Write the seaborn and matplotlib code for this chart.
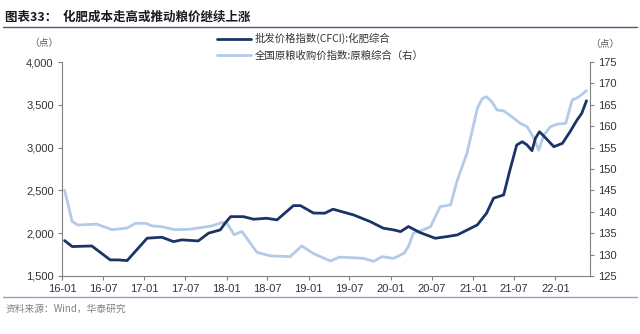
import matplotlib
matplotlib.use("Agg")
import matplotlib.pyplot as plt
import matplotlib.dates as mdates
from matplotlib.lines import Line2D
from matplotlib.ticker import FuncFormatter, MultipleLocator
import pandas as pd
import seaborn as sns

# 批发价格指数(CFCI):化肥综合 (left axis)
cfci_dates = [
    "2016-01-12", "2016-02-15", "2016-05-12", "2016-08-02", "2016-09-07", "2016-10-16",
    "2017-01-13", "2017-03-19", "2017-05-10", "2017-06-16", "2017-08-28", "2017-10-13",
    "2017-12-04", "2017-12-25", "2018-01-19", "2018-03-16", "2018-05-01", "2018-06-28",
    "2018-08-13", "2018-10-25", "2018-11-25", "2019-01-22", "2019-03-13", "2019-04-19",
    "2019-07-19", "2019-10-01", "2019-11-28", "2020-01-13", "2020-02-13", "2020-03-19",
    "2020-05-10", "2020-07-16", "2020-09-07", "2020-10-22", "2021-01-19", "2021-03-01",
    "2021-04-01", "2021-05-16", "2021-06-13", "2021-07-13", "2021-08-07", "2021-08-28",
    "2021-09-19", "2021-10-04", "2021-10-22", "2021-11-10", "2021-12-25", "2022-02-01",
    "2022-03-07", "2022-04-07", "2022-04-28", "2022-05-19",
]
cfci_values = [
    1913, 1843, 1850, 1687, 1687, 1679,
    1941, 1952, 1901, 1921, 1909, 2000,
    2038, 2116, 2193, 2193, 2163, 2174,
    2155, 2322, 2322, 2235, 2233, 2280,
    2213, 2135, 2058, 2038, 2018, 2077,
    2006, 1940, 1960, 1979, 2096, 2233,
    2408, 2447, 2739, 3031, 3069, 3031,
    2964, 3109, 3186, 3136, 3011, 3050,
    3186, 3323, 3401, 3548,
]

# 全国原粮收购价指数:原粮综合 (right axis)
grain_dates = [
    "2016-01-12", "2016-02-15", "2016-03-12", "2016-06-04", "2016-08-10", "2016-10-16",
    "2016-11-22", "2017-01-07", "2017-02-04", "2017-03-19", "2017-05-16", "2017-07-16",
    "2017-08-28", "2017-10-28", "2017-12-13", "2018-01-04", "2018-02-04", "2018-03-10",
    "2018-05-16", "2018-07-13", "2018-10-10", "2018-12-01", "2019-01-22", "2019-04-07",
    "2019-05-19", "2019-09-01", "2019-10-16", "2019-11-22", "2020-01-13", "2020-02-28",
    "2020-03-19", "2020-04-10", "2020-05-25", "2020-06-25", "2020-08-07", "2020-09-22",
    "2020-10-22", "2020-12-04", "2020-12-28", "2021-01-19", "2021-02-10", "2021-03-01",
    "2021-03-25", "2021-04-16", "2021-05-16", "2021-06-22", "2021-07-28", "2021-08-28",
    "2021-09-28", "2021-10-19", "2021-11-10", "2021-12-10", "2022-01-10", "2022-02-16",
    "2022-03-16", "2022-04-13", "2022-05-19",
]
grain_values = [
    145.1, 137.7, 136.9, 137.1, 135.8, 136.2,
    137.3, 137.3, 136.7, 136.5, 135.8, 135.9,
    136.2, 136.7, 137.5, 137.2, 134.6, 135.4,
    130.5, 129.7, 129.5, 132.0, 130.2, 128.5,
    129.4, 129.1, 128.4, 129.5, 129.1, 130.3,
    131.9, 135.0, 135.8, 136.5, 141.2, 141.6,
    147.4, 153.7, 159.1, 164.2, 166.5, 166.9,
    165.7, 163.8, 163.6, 162.2, 160.7, 159.9,
    157.2, 154.4, 157.9, 159.9, 160.5, 160.7,
    166.1, 166.8, 168.3,
]

x_tick_labels = ["16-01", "16-07", "17-01", "17-07", "18-01", "18-07", "19-01",
                 "19-07", "20-01", "20-07", "21-01", "21-07", "22-01"]

label_cfci = "批发价格指数(CFCI):化肥综合"
label_grain = "全国原粮收购价指数:原粮综合（右）"
title_text = "图表33：  化肥成本走高或推动粮价继续上涨"
source_text = "资料来源：Wind，华泰研究"

cfci = pd.DataFrame({"date": pd.to_datetime(cfci_dates), "value": cfci_values})
grain = pd.DataFrame({"date": pd.to_datetime(grain_dates), "value": grain_values})

sns.set_style("white")
plt.rcParams["font.family"] = ["Liberation Sans", "Noto Sans CJK SC", "DejaVu Sans"]
CJK = ["Noto Sans CJK SC", "DejaVu Sans"]

DARK = "#1b3466"
LIGHT = "#b3cbe8"
AXIS = "#808080"

fig = plt.figure(figsize=(6.4, 3.34), dpi=100)
ax = fig.add_axes([0.097, 0.174, 0.825, 0.640])
ax2 = ax.twinx()

sns.lineplot(data=grain, x="date", y="value", ax=ax2, color=LIGHT, linewidth=2.0)
sns.lineplot(data=cfci, x="date", y="value", ax=ax, color=DARK, linewidth=2.0)
ax.set_zorder(ax2.get_zorder() + 1)
ax.patch.set_visible(False)

ax.set_xlim(pd.Timestamp("2016-01-01"), pd.Timestamp("2022-06-04"))
ax.set_ylim(1500, 4000)
ax2.set_ylim(125, 175)
ax.yaxis.set_major_locator(MultipleLocator(500))
ax2.yaxis.set_major_locator(MultipleLocator(5))
ax.yaxis.set_major_formatter(FuncFormatter(lambda v, p: f"{int(v):,}"))

tick_dates = pd.to_datetime(["20" + t[:2] + "-" + t[3:] + "-01" for t in x_tick_labels])
ax.set_xticks(tick_dates)
ax.set_xticklabels(x_tick_labels)

for a in (ax, ax2):
    a.set_xlabel("")
    a.set_ylabel("")
    a.spines["top"].set_visible(False)
    for s in ("left", "right", "bottom"):
        a.spines[s].set_color(AXIS)
        a.spines[s].set_linewidth(0.8)
    a.tick_params(colors=AXIS, labelcolor="#333333", labelsize=8, length=3, width=0.8)
ax.spines["right"].set_visible(False)
ax2.spines["left"].set_visible(False)
ax2.spines["bottom"].set_visible(False)
ax.tick_params(axis="y", left=True, right=False, pad=3)
ax.tick_params(axis="x", bottom=True, pad=3)
ax2.tick_params(axis="y", right=True, left=False, pad=3)

# title, rules, units and source
fig.text(0.008, 0.948, title_text, family=CJK, fontsize=9, fontweight="bold",
         color="#1a1a1a", va="center", ha="left")
fig.add_artist(Line2D([0.005, 0.995], [0.918, 0.918], transform=fig.transFigure,
                      color="#4a5a78", linewidth=1.0))
fig.add_artist(Line2D([0.005, 0.995], [0.110, 0.110], transform=fig.transFigure,
                      color="#8fa2cf", linewidth=1.0))
fig.text(0.008, 0.075, source_text, family=CJK, fontsize=7, color="#808080",
         va="center", ha="left")
fig.text(0.068, 0.872, "（点）", family=CJK, fontsize=7, color="#555555",
         va="center", ha="center")
fig.text(0.945, 0.868, "（点）", family=CJK, fontsize=7, color="#555555",
         va="center", ha="center")

handles = [Line2D([], [], color=DARK, linewidth=2.0),
           Line2D([], [], color=LIGHT, linewidth=2.0)]
fig.legend(handles, [label_cfci, label_grain], loc="center left",
           bbox_to_anchor=(0.333, 0.86), frameon=False, handlelength=3.2,
           handletextpad=0.4, labelspacing=0.55, borderaxespad=0,
           prop={"family": CJK, "size": 7.5}, labelcolor="#333333")

fig.savefig("out.png", dpi=100)
